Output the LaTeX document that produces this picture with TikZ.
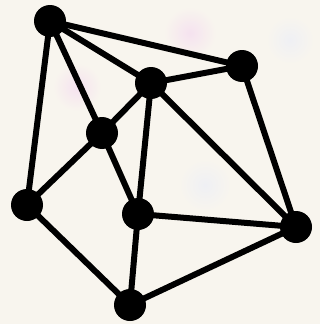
\documentclass[tikz,border=0pt]{standalone}
\usetikzlibrary{backgrounds}
\begin{document}
\begin{tikzpicture}[x=1pt,y=-1pt,
  vtx/.style={circle,fill=black,minimum size=32pt,inner sep=0pt},
  edge/.style={line width=6pt,black}]
\definecolor{paper}{HTML}{F8F5EE}
\definecolor{blobpink}{HTML}{F5E2EF}
\definecolor{blobblue}{HTML}{EFF0F4}
\fill[paper] (0,0) rectangle (320,324);
\useasboundingbox (0,0) rectangle (320,324);
\shade[inner color=blobpink,outer color=paper] (77,87) circle (24);
\shade[inner color=blobpink,outer color=paper] (190,33) circle (26);
\shade[inner color=blobblue,outer color=paper] (205,185) circle (26);
\shade[inner color=blobblue,outer color=paper] (290,40) circle (24);
\node[vtx] (A) at (50,21) {};
\node[vtx] (B) at (242,66) {};
\node[vtx] (C) at (151,83) {};
\node[vtx] (D) at (102,133) {};
\node[vtx] (E) at (27,205) {};
\node[vtx] (F) at (138,214) {};
\node[vtx] (G) at (296,227) {};
\node[vtx] (H) at (130,305) {};
\draw[edge] (A.center) -- (B.center);
\draw[edge] (A.center) -- (C.center);
\draw[edge] (A.center) -- (D.center);
\draw[edge] (A.center) -- (E.center);
\draw[edge] (C.center) -- (B.center);
\draw[edge] (C.center) -- (D.center);
\draw[edge] (C.center) -- (F.center);
\draw[edge] (C.center) -- (G.center);
\draw[edge] (B.center) -- (G.center);
\draw[edge] (D.center) -- (E.center);
\draw[edge] (D.center) -- (F.center);
\draw[edge] (E.center) -- (H.center);
\draw[edge] (F.center) -- (H.center);
\draw[edge] (F.center) -- (G.center);
\draw[edge] (H.center) -- (G.center);
\end{tikzpicture}
\end{document}
